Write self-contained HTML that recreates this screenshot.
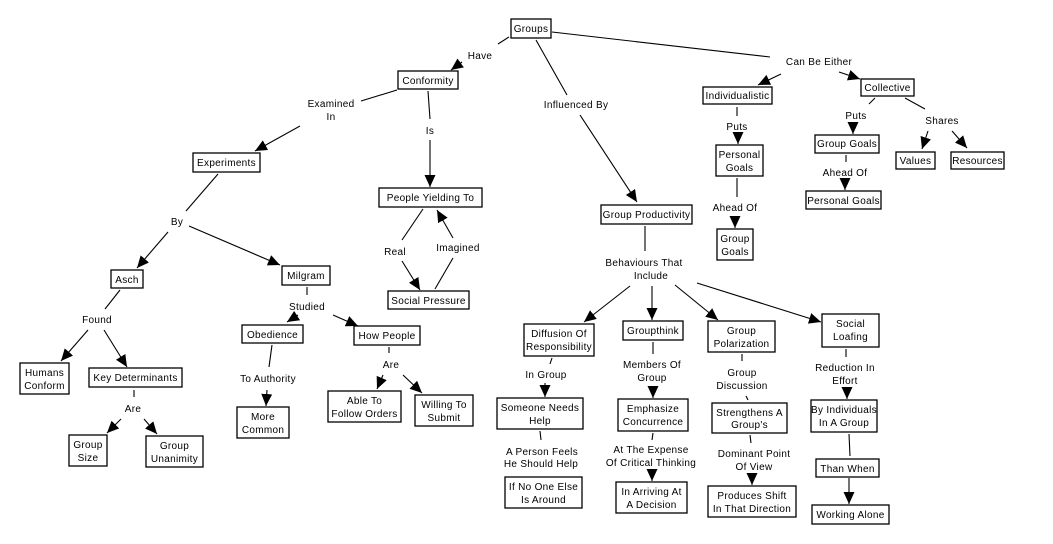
<!DOCTYPE html>
<html><head><meta charset="utf-8"><style>
html,body{margin:0;padding:0;background:#fff;}
svg{display:block}
text{font-family:"Liberation Sans",Arial,sans-serif;font-size:10px;fill:#000;text-anchor:middle;letter-spacing:0.3px}
rect{fill:#fff;stroke:#000;stroke-width:1.3}
line{stroke:#000;stroke-width:1.1}
</style></head><body>
<svg width="1053" height="544" viewBox="0 0 1053 544" xmlns="http://www.w3.org/2000/svg">
<defs><marker id="a" markerUnits="userSpaceOnUse" markerWidth="14" markerHeight="13" refX="12" refY="5.5" orient="auto"><path d="M0,0 L12,5.5 L0,11 z" fill="#000"/></marker></defs>
<g id="lines">
<line x1="509" y1="37" x2="498" y2="44"/><line x1="462" y1="62" x2="451" y2="70" marker-end="url(#a)"/>
<line x1="536" y1="40" x2="567" y2="95"/><line x1="580" y1="115" x2="637" y2="202" marker-end="url(#a)"/>
<line x1="552" y1="32" x2="770" y2="57"/><line x1="781" y1="74" x2="758" y2="85" marker-end="url(#a)"/><line x1="839" y1="72" x2="860" y2="79" marker-end="url(#a)"/>
<line x1="397" y1="90" x2="361" y2="101"/><line x1="300" y1="126" x2="255" y2="151" marker-end="url(#a)"/>
<line x1="428" y1="91" x2="430" y2="119"/><line x1="430" y1="140" x2="430" y2="187" marker-end="url(#a)"/>
<line x1="218" y1="174" x2="186" y2="211"/><line x1="168" y1="232" x2="137" y2="268" marker-end="url(#a)"/><line x1="189" y1="226" x2="280" y2="265" marker-end="url(#a)"/>
<line x1="423" y1="209" x2="402" y2="240"/><line x1="402" y1="261" x2="420" y2="290" marker-end="url(#a)"/>
<line x1="435" y1="289" x2="453" y2="258"/><line x1="453" y1="238" x2="437" y2="210" marker-end="url(#a)"/>
<line x1="120" y1="290" x2="105" y2="309"/><line x1="88" y1="330" x2="61" y2="361" marker-end="url(#a)"/><line x1="104" y1="330" x2="127" y2="367" marker-end="url(#a)"/>
<line x1="134" y1="390" x2="134" y2="397"/><line x1="121" y1="419" x2="107" y2="433" marker-end="url(#a)"/><line x1="144" y1="419" x2="157" y2="434" marker-end="url(#a)"/>
<line x1="307" y1="287" x2="307" y2="295"/><line x1="298" y1="315" x2="287" y2="322" marker-end="url(#a)"/><line x1="333" y1="315" x2="358" y2="326" marker-end="url(#a)"/>
<line x1="272" y1="345" x2="269" y2="367"/><line x1="267" y1="390" x2="266" y2="406" marker-end="url(#a)"/>
<line x1="389" y1="347" x2="389" y2="353"/><line x1="383" y1="375" x2="377" y2="389" marker-end="url(#a)"/><line x1="403" y1="375" x2="422" y2="393" marker-end="url(#a)"/>
<line x1="737" y1="107" x2="737" y2="116"/><line x1="738" y1="133" x2="738" y2="144" marker-end="url(#a)"/>
<line x1="737" y1="178" x2="737" y2="197"/><line x1="735" y1="216" x2="735" y2="228" marker-end="url(#a)"/>
<line x1="875" y1="98" x2="869" y2="104"/><line x1="853" y1="123" x2="853" y2="134" marker-end="url(#a)"/>
<line x1="846" y1="155" x2="846" y2="162"/><line x1="845" y1="179" x2="845" y2="190" marker-end="url(#a)"/>
<line x1="905" y1="98" x2="925" y2="109"/><line x1="928" y1="131" x2="922" y2="149" marker-end="url(#a)"/><line x1="952" y1="131" x2="967" y2="148" marker-end="url(#a)"/>
<line x1="645" y1="226" x2="645" y2="251"/>
<line x1="630" y1="286" x2="584" y2="322" marker-end="url(#a)"/><line x1="652" y1="286" x2="652" y2="320" marker-end="url(#a)"/>
<line x1="675" y1="285" x2="718" y2="320" marker-end="url(#a)"/><line x1="697" y1="283" x2="821" y2="322" marker-end="url(#a)"/>
<line x1="552" y1="358" x2="550" y2="364"/><line x1="545" y1="383" x2="545" y2="397" marker-end="url(#a)"/>
<line x1="653" y1="342" x2="653" y2="354"/><line x1="653" y1="387" x2="653" y2="398" marker-end="url(#a)"/>
<line x1="742" y1="354" x2="742" y2="361"/><line x1="746" y1="396" x2="748" y2="400"/>
<line x1="846" y1="349" x2="846" y2="357"/><line x1="847" y1="389" x2="847" y2="399" marker-end="url(#a)"/>
<line x1="540" y1="431" x2="541" y2="440"/>
<line x1="653" y1="433" x2="652" y2="440"/><line x1="652" y1="470" x2="652" y2="481" marker-end="url(#a)"/>
<line x1="750" y1="435" x2="751" y2="443"/><line x1="752" y1="473" x2="752" y2="485" marker-end="url(#a)"/>
<line x1="849" y1="434" x2="850" y2="456"/><line x1="849" y1="478" x2="849" y2="504" marker-end="url(#a)"/>
</g>
<g id="boxes">
<rect x="511" y="19" width="40" height="19"/><text x="531" y="32">Groups</text>
<rect x="398" y="71" width="60" height="18"/><text x="428" y="84">Conformity</text>
<rect x="193" y="153" width="67" height="19"/><text x="226.5" y="166">Experiments</text>
<rect x="379" y="188" width="103" height="19"/><text x="430.5" y="201">People Yielding To</text>
<rect x="111" y="270" width="32" height="18"/><text x="127" y="283">Asch</text>
<rect x="282" y="266" width="48" height="19"/><text x="306" y="279">Milgram</text>
<rect x="388" y="291" width="81" height="18"/><text x="428.5" y="304">Social Pressure</text>
<rect x="20" y="363" width="49" height="31"/><text x="44.5" y="376">Humans</text><text x="44.5" y="389">Conform</text>
<rect x="89" y="368" width="93" height="19"/><text x="135.5" y="381">Key Determinants</text>
<rect x="69" y="435" width="38" height="31"/><text x="88" y="448">Group</text><text x="88" y="461">Size</text>
<rect x="146" y="436" width="57" height="31"/><text x="174.5" y="449">Group</text><text x="174.5" y="462">Unanimity</text>
<rect x="242" y="325" width="61" height="18"/><text x="272.5" y="338">Obedience</text>
<rect x="354" y="326" width="66" height="19"/><text x="387" y="339">How People</text>
<rect x="237" y="407" width="52" height="31"/><text x="263" y="420">More</text><text x="263" y="433">Common</text>
<rect x="328" y="391" width="73" height="31"/><text x="364.5" y="404">Able To</text><text x="364.5" y="417">Follow Orders</text>
<rect x="415" y="395" width="58" height="31"/><text x="444" y="408">Willing To</text><text x="444" y="421">Submit</text>
<rect x="601" y="205" width="91" height="19"/><text x="646.5" y="218">Group Productivity</text>
<rect x="703" y="87" width="69" height="17"/><text x="737.5" y="99">Individualistic</text>
<rect x="716" y="145" width="47" height="31"/><text x="739.5" y="158">Personal</text><text x="739.5" y="171">Goals</text>
<rect x="717" y="229" width="36" height="31"/><text x="735" y="242">Group</text><text x="735" y="255">Goals</text>
<rect x="861" y="79" width="53" height="17"/><text x="887.5" y="91">Collective</text>
<rect x="815" y="135" width="64" height="18"/><text x="847" y="147">Group Goals</text>
<rect x="806" y="191" width="75" height="18"/><text x="843.5" y="204">Personal Goals</text>
<rect x="896" y="152" width="39" height="17"/><text x="915.5" y="164">Values</text>
<rect x="951" y="152" width="53" height="17"/><text x="977.5" y="164">Resources</text>
<rect x="524" y="324" width="70" height="32"/><text x="559" y="337">Diffusion Of</text><text x="559" y="350">Responsibility</text>
<rect x="623" y="321" width="60" height="19"/><text x="653" y="334">Groupthink</text>
<rect x="708" y="321" width="67" height="31"/><text x="741.5" y="334">Group</text><text x="741.5" y="347">Polarization</text>
<rect x="822" y="314" width="57" height="33"/><text x="850.5" y="327">Social</text><text x="850.5" y="340">Loafing</text>
<rect x="497" y="398" width="86" height="31"/><text x="540" y="411">Someone Needs</text><text x="540" y="424">Help</text>
<rect x="618" y="399" width="70" height="32"/><text x="653" y="412">Emphasize</text><text x="653" y="425">Concurrence</text>
<rect x="712" y="403" width="75" height="30"/><text x="749.5" y="416">Strengthens A</text><text x="749.5" y="428">Group's</text>
<rect x="811" y="400" width="66" height="32"/><text x="844" y="413">By Individuals</text><text x="844" y="426">In A Group</text>
<rect x="505" y="477" width="77" height="31"/><text x="543.5" y="490">If No One Else</text><text x="543.5" y="503">Is Around</text>
<rect x="616" y="482" width="71" height="31"/><text x="651.5" y="495">In Arriving At</text><text x="651.5" y="508">A Decision</text>
<rect x="708" y="486" width="88" height="31"/><text x="752" y="499">Produces Shift</text><text x="752" y="512">In That Direction</text>
<rect x="816" y="459" width="63" height="18"/><text x="847.5" y="472">Than When</text>
<rect x="812" y="505" width="77" height="19"/><text x="850.5" y="518">Working Alone</text>
</g>
<g id="labels">
<text x="480" y="59">Have</text>
<text x="331" y="107">Examined</text><text x="331" y="120">In</text>
<text x="430" y="134">Is</text>
<text x="177" y="225">By</text>
<text x="97" y="323">Found</text>
<text x="133" y="412">Are</text>
<text x="307" y="310">Studied</text>
<text x="391" y="368">Are</text>
<text x="268" y="382">To Authority</text>
<text x="395" y="255">Real</text>
<text x="458" y="251">Imagined</text>
<text x="576" y="108">Influenced By</text>
<text x="819" y="65">Can Be Either</text>
<text x="737" y="130">Puts</text>
<text x="735" y="211">Ahead Of</text>
<text x="856" y="119">Puts</text>
<text x="845" y="176">Ahead Of</text>
<text x="942" y="124">Shares</text>
<text x="644" y="266">Behaviours That</text><text x="651" y="279">Include</text>
<text x="546" y="378">In Group</text>
<text x="652" y="368">Members Of</text><text x="652" y="381">Group</text>
<text x="742" y="376">Group</text><text x="742" y="389">Discussion</text>
<text x="845" y="371">Reduction In</text><text x="845" y="384">Effort</text>
<text x="542" y="455">A Person Feels</text><text x="541" y="467">He Should Help</text>
<text x="651" y="453">At The Expense</text><text x="651" y="466">Of Critical Thinking</text>
<text x="754" y="457">Dominant Point</text><text x="754" y="470">Of View</text>
</g>
</svg>
</body></html>
